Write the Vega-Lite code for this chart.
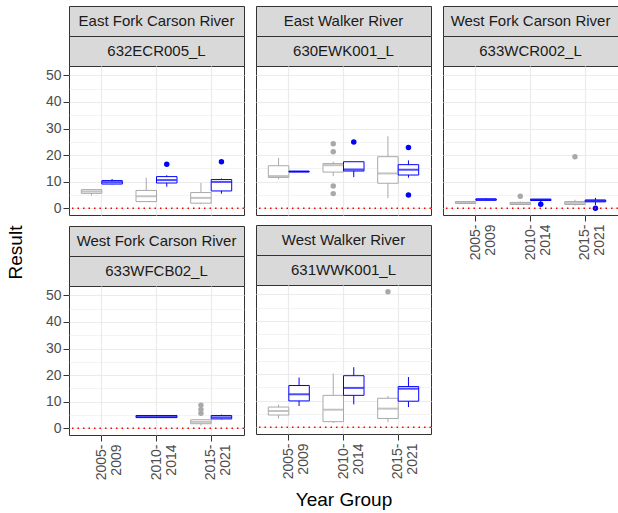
{
"$schema": "https://vega.github.io/schema/vega-lite/v6.json",
"background": "white",
"padding": {"left": 5, "top": 5, "right": 0, "bottom": 0},
"datasets": {
"boxes": [
{"site":"632ECR005_L","period":"2005-2009","series":"Series A","lo":4.8,"q1":5.6,"med":6.3,"q3":7.0,"hi":7.0},
{"site":"632ECR005_L","period":"2005-2009","series":"Series B","lo":9.0,"q1":9.1,"med":9.8,"q3":10.4,"hi":11.0},
{"site":"632ECR005_L","period":"2010-2014","series":"Series A","lo":2.3,"q1":2.5,"med":4.5,"q3":6.7,"hi":11.5},
{"site":"632ECR005_L","period":"2010-2014","series":"Series B","lo":8.1,"q1":9.5,"med":10.6,"q3":11.9,"hi":12.4},
{"site":"632ECR005_L","period":"2015-2021","series":"Series A","lo":1.5,"q1":1.9,"med":3.9,"q3":5.9,"hi":9.5},
{"site":"632ECR005_L","period":"2015-2021","series":"Series B","lo":5.5,"q1":6.5,"med":9.9,"q3":10.8,"hi":11.2},
{"site":"630EWK001_L","period":"2005-2009","series":"Series A","lo":10.9,"q1":11.6,"med":12.1,"q3":16.0,"hi":18.9},
{"site":"630EWK001_L","period":"2005-2009","series":"Series B","lo":13.7,"q1":13.7,"med":13.8,"q3":13.9,"hi":13.9},
{"site":"630EWK001_L","period":"2010-2014","series":"Series A","lo":12.1,"q1":13.6,"med":16.2,"q3":16.8,"hi":17.5},
{"site":"630EWK001_L","period":"2010-2014","series":"Series B","lo":11.7,"q1":14.0,"med":14.6,"q3":17.5,"hi":17.5},
{"site":"630EWK001_L","period":"2015-2021","series":"Series A","lo":3.8,"q1":9.4,"med":13.1,"q3":19.4,"hi":27.1},
{"site":"630EWK001_L","period":"2015-2021","series":"Series B","lo":11.5,"q1":12.5,"med":14.5,"q3":16.4,"hi":18.0},
{"site":"633WCR002_L","period":"2005-2009","series":"Series A","lo":1.6,"q1":1.8,"med":2.1,"q3":2.5,"hi":2.7},
{"site":"633WCR002_L","period":"2005-2009","series":"Series B","lo":2.9,"q1":3.0,"med":3.3,"q3":3.5,"hi":3.7},
{"site":"633WCR002_L","period":"2010-2014","series":"Series A","lo":1.2,"q1":1.4,"med":1.8,"q3":2.2,"hi":2.5},
{"site":"633WCR002_L","period":"2010-2014","series":"Series B","lo":2.2,"q1":2.9,"med":3.2,"q3":3.4,"hi":3.4},
{"site":"633WCR002_L","period":"2015-2021","series":"Series A","lo":1.0,"q1":1.4,"med":2.0,"q3":2.5,"hi":3.2},
{"site":"633WCR002_L","period":"2015-2021","series":"Series B","lo":1.2,"q1":2.4,"med":2.8,"q3":3.1,"hi":3.9},
{"site":"633WFCB02_L","period":"2010-2014","series":"Series B","lo":4.0,"q1":4.0,"med":4.4,"q3":4.8,"hi":4.8},
{"site":"633WFCB02_L","period":"2015-2021","series":"Series A","lo":1.0,"q1":1.7,"med":2.4,"q3":3.2,"hi":3.2},
{"site":"633WFCB02_L","period":"2015-2021","series":"Series B","lo":3.3,"q1":3.5,"med":4.1,"q3":4.8,"hi":5.1},
{"site":"631WWK001_L","period":"2005-2009","series":"Series A","lo":3.3,"q1":4.6,"med":6.1,"q3":7.6,"hi":8.5},
{"site":"631WWK001_L","period":"2005-2009","series":"Series B","lo":8.0,"q1":9.9,"med":12.4,"q3":15.7,"hi":18.7},
{"site":"631WWK001_L","period":"2010-2014","series":"Series A","lo":1.6,"q1":2.1,"med":6.6,"q3":12.0,"hi":20.2},
{"site":"631WWK001_L","period":"2010-2014","series":"Series B","lo":8.6,"q1":12.0,"med":14.8,"q3":19.4,"hi":22.6},
{"site":"631WWK001_L","period":"2015-2021","series":"Series A","lo":1.9,"q1":3.3,"med":7.0,"q3":10.9,"hi":11.8},
{"site":"631WWK001_L","period":"2015-2021","series":"Series B","lo":7.6,"q1":9.8,"med":14.5,"q3":15.3,"hi":18.9}
],
"outliers": [
{"site":"632ECR005_L","period":"2010-2014","series":"Series B","value":16.6},
{"site":"632ECR005_L","period":"2015-2021","series":"Series B","value":17.5},
{"site":"630EWK001_L","period":"2010-2014","series":"Series A","value":24.3},
{"site":"630EWK001_L","period":"2010-2014","series":"Series A","value":21.3},
{"site":"630EWK001_L","period":"2010-2014","series":"Series A","value":8.4},
{"site":"630EWK001_L","period":"2010-2014","series":"Series A","value":5.5},
{"site":"630EWK001_L","period":"2010-2014","series":"Series B","value":24.9},
{"site":"630EWK001_L","period":"2015-2021","series":"Series B","value":22.9},
{"site":"630EWK001_L","period":"2015-2021","series":"Series B","value":5.0},
{"site":"633WCR002_L","period":"2010-2014","series":"Series A","value":4.5},
{"site":"633WCR002_L","period":"2010-2014","series":"Series B","value":1.5},
{"site":"633WCR002_L","period":"2015-2021","series":"Series A","value":19.4},
{"site":"633WCR002_L","period":"2015-2021","series":"Series B","value":0.0},
{"site":"633WFCB02_L","period":"2015-2021","series":"Series A","value":8.7},
{"site":"633WFCB02_L","period":"2015-2021","series":"Series A","value":7.1},
{"site":"633WFCB02_L","period":"2015-2021","series":"Series A","value":5.6},
{"site":"631WWK001_L","period":"2015-2021","series":"Series A","value":51.0}
]
},
"spacing": 8,
"align": "each",
"hconcat": [
{"spacing": 8, "vconcat": [
 {"spacing": 0, "bounds": "flush", "vconcat": [
  {"width": 175, "height": 30, "view": {"fill": "#D9D9D9", "stroke": "#333333"}, "data": {"values": [{"label": "East Fork Carson River"}]}, "mark": {"type": "text", "fontSize": 15, "color": "#1A1A1A"}, "encoding": {"text": {"field": "label"}}},
  {"width": 175, "height": 30, "view": {"fill": "#D9D9D9", "stroke": "#333333"}, "data": {"values": [{"label": "632ECR005_L"}]}, "mark": {"type": "text", "fontSize": 15, "color": "#1A1A1A"}, "encoding": {"text": {"field": "label"}}},
  {"width": 175, "height": 149, "resolve": {"axis": {"y": "independent"}}, "layer": [
   {"data": {"name": "boxes"}, "transform": [{"filter": "datum.site === '632ECR005_L'"}, {"joinaggregate": [{"op": "count", "as": "n"}], "groupby": ["period"]}, {"filter": "datum.n === 2"}],
    "mark": {"type": "rule", "strokeWidth": 1},
    "encoding": {
     "x": {"field": "period", "type": "nominal", "scale": {"type": "band", "domain": ["2005-2009","2010-2014","2015-2021"], "paddingInner": 0.25, "paddingOuter": 0.225}, "axis": {"title": null, "labels": false, "ticks": false, "grid": true, "bandPosition": 0.5, "gridWidth": 1.2}},
     "xOffset": {"field": "series", "type": "nominal", "scale": {"domain": ["Series A","Series B"], "paddingInner": 0, "paddingOuter": 0}},
     "y": {"field": "lo", "type": "quantitative", "scale": {"domain": [-2.55, 53.55], "nice": false, "zero": false}, "axis": {"title": "Result", "titleColor": "rgba(0,0,0,0)", "titlePadding": 20, "values": [0,10,20,30,40,50], "labelOverlap": false, "grid": true, "gridWidth": 1.2}},
     "y2": {"field": "hi"},
     "color": {"field": "series", "type": "nominal", "scale": {"domain": ["Series A","Series B"], "range": ["#A9A9A9","#0000FF"]}, "legend": null}}},
   {"data": {"name": "boxes"}, "transform": [{"filter": "datum.site === '632ECR005_L'"}, {"joinaggregate": [{"op": "count", "as": "n"}], "groupby": ["period"]}, {"filter": "datum.n === 2"}],
    "mark": {"type": "bar", "fill": "white", "strokeWidth": 1},
    "encoding": {"x": {"field": "period", "type": "nominal"}, "xOffset": {"field": "series", "type": "nominal"}, "y": {"field": "q1", "type": "quantitative", "axis": null}, "y2": {"field": "q3"}, "stroke": {"field": "series", "type": "nominal", "scale": {"domain": ["Series A","Series B"], "range": ["#A9A9A9","#0000FF"]}, "legend": null}}},
   {"data": {"name": "boxes"}, "transform": [{"filter": "datum.site === '632ECR005_L'"}, {"joinaggregate": [{"op": "count", "as": "n"}], "groupby": ["period"]}, {"filter": "datum.n === 2"}],
    "mark": {"type": "tick", "thickness": 2, "size": 20},
    "encoding": {"x": {"field": "period", "type": "nominal"}, "xOffset": {"field": "series", "type": "nominal"}, "y": {"field": "med", "type": "quantitative", "axis": null}, "color": {"field": "series", "type": "nominal", "legend": null}}},
   {"data": {"name": "outliers"}, "transform": [{"filter": "datum.site === '632ECR005_L'"}],
    "mark": {"type": "circle", "size": 30, "opacity": 1},
    "encoding": {"x": {"field": "period", "type": "nominal"}, "xOffset": {"field": "series", "type": "nominal"}, "y": {"field": "value", "type": "quantitative", "axis": null}, "color": {"field": "series", "type": "nominal", "legend": null}}},
   {"data": {"values": [{"ref": 0}]}, "mark": {"type": "rule", "color": "#FF0000", "strokeDash": [1.5, 4], "strokeWidth": 1.3}, "encoding": {"y": {"field": "ref", "type": "quantitative", "axis": {"orient": "right", "title": null, "values": [5,15,25,35,45], "labels": false, "ticks": false, "domain": false, "grid": true, "gridWidth": 0.6}}}}
  ]}
 ]},
 {"spacing": 0, "bounds": "flush", "vconcat": [
  {"width": 175, "height": 30, "view": {"fill": "#D9D9D9", "stroke": "#333333"}, "data": {"values": [{"label": "West Fork Carson River"}]}, "mark": {"type": "text", "fontSize": 15, "color": "#1A1A1A"}, "encoding": {"text": {"field": "label"}}},
  {"width": 175, "height": 30, "view": {"fill": "#D9D9D9", "stroke": "#333333"}, "data": {"values": [{"label": "633WFCB02_L"}]}, "mark": {"type": "text", "fontSize": 15, "color": "#1A1A1A"}, "encoding": {"text": {"field": "label"}}},
  {"width": 175, "height": 149, "resolve": {"axis": {"y": "independent"}}, "layer": [
   {"data": {"name": "boxes"}, "transform": [{"filter": "datum.site === '633WFCB02_L'"}, {"joinaggregate": [{"op": "count", "as": "n"}], "groupby": ["period"]}, {"filter": "datum.n === 2"}],
    "mark": {"type": "rule", "strokeWidth": 1},
    "encoding": {
     "x": {"field": "period", "type": "nominal", "scale": {"type": "band", "domain": ["2005-2009","2010-2014","2015-2021"], "paddingInner": 0.25, "paddingOuter": 0.225}, "axis": {"title": null, "labelAngle": -90, "labelAlign": "right", "labelBaseline": "middle", "labelExpr": "[slice(datum.label,0,5), slice(datum.label,5)]", "labelLineHeight": 15, "labelPadding": 3, "labelOverlap": false, "grid": true, "bandPosition": 0.5, "gridWidth": 1.2}},
     "xOffset": {"field": "series", "type": "nominal", "scale": {"domain": ["Series A","Series B"], "paddingInner": 0, "paddingOuter": 0}},
     "y": {"field": "lo", "type": "quantitative", "scale": {"domain": [-2.55, 53.55], "nice": false, "zero": false}, "axis": {"title": "Result", "titleY": -34, "titlePadding": 20, "values": [0,10,20,30,40,50], "labelOverlap": false, "grid": true, "gridWidth": 1.2}},
     "y2": {"field": "hi"},
     "color": {"field": "series", "type": "nominal", "scale": {"domain": ["Series A","Series B"], "range": ["#A9A9A9","#0000FF"]}, "legend": null}}},
   {"data": {"name": "boxes"}, "transform": [{"filter": "datum.site === '633WFCB02_L'"}, {"joinaggregate": [{"op": "count", "as": "n"}], "groupby": ["period"]}, {"filter": "datum.n === 2"}],
    "mark": {"type": "bar", "fill": "white", "strokeWidth": 1},
    "encoding": {"x": {"field": "period", "type": "nominal"}, "xOffset": {"field": "series", "type": "nominal"}, "y": {"field": "q1", "type": "quantitative", "axis": null}, "y2": {"field": "q3"}, "stroke": {"field": "series", "type": "nominal", "scale": {"domain": ["Series A","Series B"], "range": ["#A9A9A9","#0000FF"]}, "legend": null}}},
   {"data": {"name": "boxes"}, "transform": [{"filter": "datum.site === '633WFCB02_L'"}, {"joinaggregate": [{"op": "count", "as": "n"}], "groupby": ["period"]}, {"filter": "datum.n === 2"}],
    "mark": {"type": "tick", "thickness": 2, "size": 20},
    "encoding": {"x": {"field": "period", "type": "nominal"}, "xOffset": {"field": "series", "type": "nominal"}, "y": {"field": "med", "type": "quantitative", "axis": null}, "color": {"field": "series", "type": "nominal", "legend": null}}},
   {"data": {"name": "boxes"}, "transform": [{"filter": "datum.site === '633WFCB02_L'"}, {"joinaggregate": [{"op": "count", "as": "n"}], "groupby": ["period"]}, {"filter": "datum.n === 1"}],
    "mark": {"type": "rule", "strokeWidth": 1},
    "encoding": {"x": {"field": "period", "type": "nominal"}, "y": {"field": "lo", "type": "quantitative", "axis": null}, "y2": {"field": "hi"}, "color": {"field": "series", "type": "nominal", "legend": null}}},
   {"data": {"name": "boxes"}, "transform": [{"filter": "datum.site === '633WFCB02_L'"}, {"joinaggregate": [{"op": "count", "as": "n"}], "groupby": ["period"]}, {"filter": "datum.n === 1"}],
    "mark": {"type": "bar", "fill": "white", "strokeWidth": 1},
    "encoding": {"x": {"field": "period", "type": "nominal"}, "y": {"field": "q1", "type": "quantitative", "axis": null}, "y2": {"field": "q3"}, "stroke": {"field": "series", "type": "nominal", "legend": null}}},
   {"data": {"name": "boxes"}, "transform": [{"filter": "datum.site === '633WFCB02_L'"}, {"joinaggregate": [{"op": "count", "as": "n"}], "groupby": ["period"]}, {"filter": "datum.n === 1"}],
    "mark": {"type": "tick", "thickness": 2, "size": 41},
    "encoding": {"x": {"field": "period", "type": "nominal"}, "y": {"field": "med", "type": "quantitative", "axis": null}, "color": {"field": "series", "type": "nominal", "legend": null}}},
   {"data": {"name": "outliers"}, "transform": [{"filter": "datum.site === '633WFCB02_L'"}],
    "mark": {"type": "circle", "size": 30, "opacity": 1},
    "encoding": {"x": {"field": "period", "type": "nominal"}, "xOffset": {"field": "series", "type": "nominal"}, "y": {"field": "value", "type": "quantitative", "axis": null}, "color": {"field": "series", "type": "nominal", "legend": null}}},
   {"data": {"values": [{"ref": 0}]}, "mark": {"type": "rule", "color": "#FF0000", "strokeDash": [1.5, 4], "strokeWidth": 1.3}, "encoding": {"y": {"field": "ref", "type": "quantitative", "axis": {"orient": "right", "title": null, "values": [5,15,25,35,45], "labels": false, "ticks": false, "domain": false, "grid": true, "gridWidth": 0.6}}}}
  ]}
 ]}
]},
{"spacing": 8, "vconcat": [
 {"spacing": 0, "bounds": "flush", "vconcat": [
  {"width": 175, "height": 30, "view": {"fill": "#D9D9D9", "stroke": "#333333"}, "data": {"values": [{"label": "East Walker River"}]}, "mark": {"type": "text", "fontSize": 15, "color": "#1A1A1A"}, "encoding": {"text": {"field": "label"}}},
  {"width": 175, "height": 30, "view": {"fill": "#D9D9D9", "stroke": "#333333"}, "data": {"values": [{"label": "630EWK001_L"}]}, "mark": {"type": "text", "fontSize": 15, "color": "#1A1A1A"}, "encoding": {"text": {"field": "label"}}},
  {"width": 175, "height": 149, "resolve": {"axis": {"y": "independent"}}, "layer": [
   {"data": {"name": "boxes"}, "transform": [{"filter": "datum.site === '630EWK001_L'"}, {"joinaggregate": [{"op": "count", "as": "n"}], "groupby": ["period"]}, {"filter": "datum.n === 2"}],
    "mark": {"type": "rule", "strokeWidth": 1},
    "encoding": {
     "x": {"field": "period", "type": "nominal", "scale": {"type": "band", "domain": ["2005-2009","2010-2014","2015-2021"], "paddingInner": 0.25, "paddingOuter": 0.225}, "axis": {"title": null, "labels": false, "ticks": false, "grid": true, "bandPosition": 0.5, "gridWidth": 1.2}},
     "xOffset": {"field": "series", "type": "nominal", "scale": {"domain": ["Series A","Series B"], "paddingInner": 0, "paddingOuter": 0}},
     "y": {"field": "lo", "type": "quantitative", "scale": {"domain": [-2.55, 53.55], "nice": false, "zero": false}, "axis": {"title": null, "labels": false, "ticks": false, "values": [0,10,20,30,40,50], "grid": true, "gridWidth": 1.2}},
     "y2": {"field": "hi"},
     "color": {"field": "series", "type": "nominal", "scale": {"domain": ["Series A","Series B"], "range": ["#A9A9A9","#0000FF"]}, "legend": null}}},
   {"data": {"name": "boxes"}, "transform": [{"filter": "datum.site === '630EWK001_L'"}, {"joinaggregate": [{"op": "count", "as": "n"}], "groupby": ["period"]}, {"filter": "datum.n === 2"}],
    "mark": {"type": "bar", "fill": "white", "strokeWidth": 1},
    "encoding": {"x": {"field": "period", "type": "nominal"}, "xOffset": {"field": "series", "type": "nominal"}, "y": {"field": "q1", "type": "quantitative", "axis": null}, "y2": {"field": "q3"}, "stroke": {"field": "series", "type": "nominal", "scale": {"domain": ["Series A","Series B"], "range": ["#A9A9A9","#0000FF"]}, "legend": null}}},
   {"data": {"name": "boxes"}, "transform": [{"filter": "datum.site === '630EWK001_L'"}, {"joinaggregate": [{"op": "count", "as": "n"}], "groupby": ["period"]}, {"filter": "datum.n === 2"}],
    "mark": {"type": "tick", "thickness": 2, "size": 20},
    "encoding": {"x": {"field": "period", "type": "nominal"}, "xOffset": {"field": "series", "type": "nominal"}, "y": {"field": "med", "type": "quantitative", "axis": null}, "color": {"field": "series", "type": "nominal", "legend": null}}},
   {"data": {"name": "outliers"}, "transform": [{"filter": "datum.site === '630EWK001_L'"}],
    "mark": {"type": "circle", "size": 30, "opacity": 1},
    "encoding": {"x": {"field": "period", "type": "nominal"}, "xOffset": {"field": "series", "type": "nominal"}, "y": {"field": "value", "type": "quantitative", "axis": null}, "color": {"field": "series", "type": "nominal", "legend": null}}},
   {"data": {"values": [{"ref": 0}]}, "mark": {"type": "rule", "color": "#FF0000", "strokeDash": [1.5, 4], "strokeWidth": 1.3}, "encoding": {"y": {"field": "ref", "type": "quantitative", "axis": {"orient": "right", "title": null, "values": [5,15,25,35,45], "labels": false, "ticks": false, "domain": false, "grid": true, "gridWidth": 0.6}}}}
  ]}
 ]},
 {"spacing": 0, "bounds": "flush", "vconcat": [
  {"width": 175, "height": 30, "view": {"fill": "#D9D9D9", "stroke": "#333333"}, "data": {"values": [{"label": "West Walker River"}]}, "mark": {"type": "text", "fontSize": 15, "color": "#1A1A1A"}, "encoding": {"text": {"field": "label"}}},
  {"width": 175, "height": 30, "view": {"fill": "#D9D9D9", "stroke": "#333333"}, "data": {"values": [{"label": "631WWK001_L"}]}, "mark": {"type": "text", "fontSize": 15, "color": "#1A1A1A"}, "encoding": {"text": {"field": "label"}}},
  {"width": 175, "height": 149, "resolve": {"axis": {"y": "independent"}}, "layer": [
   {"data": {"name": "boxes"}, "transform": [{"filter": "datum.site === '631WWK001_L'"}, {"joinaggregate": [{"op": "count", "as": "n"}], "groupby": ["period"]}, {"filter": "datum.n === 2"}],
    "mark": {"type": "rule", "strokeWidth": 1},
    "encoding": {
     "x": {"field": "period", "type": "nominal", "scale": {"type": "band", "domain": ["2005-2009","2010-2014","2015-2021"], "paddingInner": 0.25, "paddingOuter": 0.225}, "axis": {"title": "Year Group", "titlePadding": 12, "labelAngle": -90, "labelAlign": "right", "labelBaseline": "middle", "labelExpr": "[slice(datum.label,0,5), slice(datum.label,5)]", "labelLineHeight": 15, "labelPadding": 3, "labelOverlap": false, "grid": true, "bandPosition": 0.5, "gridWidth": 1.2}},
     "xOffset": {"field": "series", "type": "nominal", "scale": {"domain": ["Series A","Series B"], "paddingInner": 0, "paddingOuter": 0}},
     "y": {"field": "lo", "type": "quantitative", "scale": {"domain": [-2.55, 53.55], "nice": false, "zero": false}, "axis": {"title": null, "labels": false, "ticks": false, "values": [0,10,20,30,40,50], "grid": true, "gridWidth": 1.2}},
     "y2": {"field": "hi"},
     "color": {"field": "series", "type": "nominal", "scale": {"domain": ["Series A","Series B"], "range": ["#A9A9A9","#0000FF"]}, "legend": null}}},
   {"data": {"name": "boxes"}, "transform": [{"filter": "datum.site === '631WWK001_L'"}, {"joinaggregate": [{"op": "count", "as": "n"}], "groupby": ["period"]}, {"filter": "datum.n === 2"}],
    "mark": {"type": "bar", "fill": "white", "strokeWidth": 1},
    "encoding": {"x": {"field": "period", "type": "nominal"}, "xOffset": {"field": "series", "type": "nominal"}, "y": {"field": "q1", "type": "quantitative", "axis": null}, "y2": {"field": "q3"}, "stroke": {"field": "series", "type": "nominal", "scale": {"domain": ["Series A","Series B"], "range": ["#A9A9A9","#0000FF"]}, "legend": null}}},
   {"data": {"name": "boxes"}, "transform": [{"filter": "datum.site === '631WWK001_L'"}, {"joinaggregate": [{"op": "count", "as": "n"}], "groupby": ["period"]}, {"filter": "datum.n === 2"}],
    "mark": {"type": "tick", "thickness": 2, "size": 20},
    "encoding": {"x": {"field": "period", "type": "nominal"}, "xOffset": {"field": "series", "type": "nominal"}, "y": {"field": "med", "type": "quantitative", "axis": null}, "color": {"field": "series", "type": "nominal", "legend": null}}},
   {"data": {"name": "outliers"}, "transform": [{"filter": "datum.site === '631WWK001_L'"}],
    "mark": {"type": "circle", "size": 30, "opacity": 1},
    "encoding": {"x": {"field": "period", "type": "nominal"}, "xOffset": {"field": "series", "type": "nominal"}, "y": {"field": "value", "type": "quantitative", "axis": null}, "color": {"field": "series", "type": "nominal", "legend": null}}},
   {"data": {"values": [{"ref": 0}]}, "mark": {"type": "rule", "color": "#FF0000", "strokeDash": [1.5, 4], "strokeWidth": 1.3}, "encoding": {"y": {"field": "ref", "type": "quantitative", "axis": {"orient": "right", "title": null, "values": [5,15,25,35,45], "labels": false, "ticks": false, "domain": false, "grid": true, "gridWidth": 0.6}}}}
  ]}
 ]}
]},
{"spacing": 0, "bounds": "flush", "vconcat": [
  {"width": 175, "height": 30, "view": {"fill": "#D9D9D9", "stroke": "#333333"}, "data": {"values": [{"label": "West Fork Carson River"}]}, "mark": {"type": "text", "fontSize": 15, "color": "#1A1A1A"}, "encoding": {"text": {"field": "label"}}},
  {"width": 175, "height": 30, "view": {"fill": "#D9D9D9", "stroke": "#333333"}, "data": {"values": [{"label": "633WCR002_L"}]}, "mark": {"type": "text", "fontSize": 15, "color": "#1A1A1A"}, "encoding": {"text": {"field": "label"}}},
  {"width": 175, "height": 149, "resolve": {"axis": {"y": "independent"}}, "layer": [
   {"data": {"name": "boxes"}, "transform": [{"filter": "datum.site === '633WCR002_L'"}, {"joinaggregate": [{"op": "count", "as": "n"}], "groupby": ["period"]}, {"filter": "datum.n === 2"}],
    "mark": {"type": "rule", "strokeWidth": 1},
    "encoding": {
     "x": {"field": "period", "type": "nominal", "scale": {"type": "band", "domain": ["2005-2009","2010-2014","2015-2021"], "paddingInner": 0.25, "paddingOuter": 0.225}, "axis": {"title": null, "labelAngle": -90, "labelAlign": "right", "labelBaseline": "middle", "labelExpr": "[slice(datum.label,0,5), slice(datum.label,5)]", "labelLineHeight": 15, "labelPadding": 3, "labelOverlap": false, "grid": true, "bandPosition": 0.5, "gridWidth": 1.2}},
     "xOffset": {"field": "series", "type": "nominal", "scale": {"domain": ["Series A","Series B"], "paddingInner": 0, "paddingOuter": 0}},
     "y": {"field": "lo", "type": "quantitative", "scale": {"domain": [-2.55, 53.55], "nice": false, "zero": false}, "axis": {"title": null, "labels": false, "ticks": false, "values": [0,10,20,30,40,50], "grid": true, "gridWidth": 1.2}},
     "y2": {"field": "hi"},
     "color": {"field": "series", "type": "nominal", "scale": {"domain": ["Series A","Series B"], "range": ["#A9A9A9","#0000FF"]}, "legend": null}}},
   {"data": {"name": "boxes"}, "transform": [{"filter": "datum.site === '633WCR002_L'"}, {"joinaggregate": [{"op": "count", "as": "n"}], "groupby": ["period"]}, {"filter": "datum.n === 2"}],
    "mark": {"type": "bar", "fill": "white", "strokeWidth": 1},
    "encoding": {"x": {"field": "period", "type": "nominal"}, "xOffset": {"field": "series", "type": "nominal"}, "y": {"field": "q1", "type": "quantitative", "axis": null}, "y2": {"field": "q3"}, "stroke": {"field": "series", "type": "nominal", "scale": {"domain": ["Series A","Series B"], "range": ["#A9A9A9","#0000FF"]}, "legend": null}}},
   {"data": {"name": "boxes"}, "transform": [{"filter": "datum.site === '633WCR002_L'"}, {"joinaggregate": [{"op": "count", "as": "n"}], "groupby": ["period"]}, {"filter": "datum.n === 2"}],
    "mark": {"type": "tick", "thickness": 2, "size": 20},
    "encoding": {"x": {"field": "period", "type": "nominal"}, "xOffset": {"field": "series", "type": "nominal"}, "y": {"field": "med", "type": "quantitative", "axis": null}, "color": {"field": "series", "type": "nominal", "legend": null}}},
   {"data": {"name": "outliers"}, "transform": [{"filter": "datum.site === '633WCR002_L'"}],
    "mark": {"type": "circle", "size": 30, "opacity": 1},
    "encoding": {"x": {"field": "period", "type": "nominal"}, "xOffset": {"field": "series", "type": "nominal"}, "y": {"field": "value", "type": "quantitative", "axis": null}, "color": {"field": "series", "type": "nominal", "legend": null}}},
   {"data": {"values": [{"ref": 0}]}, "mark": {"type": "rule", "color": "#FF0000", "strokeDash": [1.5, 4], "strokeWidth": 1.3}, "encoding": {"y": {"field": "ref", "type": "quantitative", "axis": {"orient": "right", "title": null, "values": [5,15,25,35,45], "labels": false, "ticks": false, "domain": false, "grid": true, "gridWidth": 0.6}}}}
  ]}
]}
],
"config": {
 "font": "Liberation Sans",
 "view": {"stroke": "#333333", "strokeWidth": 1},
 "axis": {"labelFont": "Liberation Sans", "labelFontSize": 14, "labelColor": "#4D4D4D", "tickColor": "#333333", "tickSize": 6, "tickWidth": 1, "labelPadding": 2, "titleFont": "Liberation Sans", "titleFontSize": 19, "titleFontWeight": "normal", "titleColor": "#000000", "gridColor": "#EBEBEB", "domain": false},
 "text": {"font": "Liberation Sans"}
}
}
